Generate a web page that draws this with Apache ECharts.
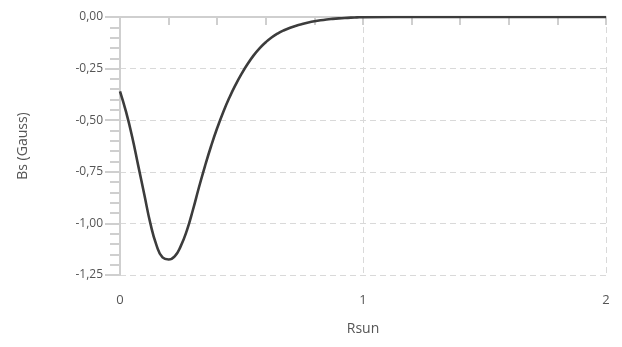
<!DOCTYPE html>
<html>
<head>
<meta charset="utf-8">
<script src="https://cdn.jsdelivr.net/npm/echarts@6/dist/echarts.min.js"></script>
<style>
  html, body { margin: 0; padding: 0; background: #fff; }
  #chart { width: 622px; height: 347px; }
</style>
</head>
<body>
<div id="chart"></div>
<script>
// Rsun values (x) and Bs in Gauss (y)
const rsun = [0, 0.025, 0.05, 0.075, 0.1, 0.125, 0.15, 0.175, 0.2, 0.225, 0.25, 0.275, 0.3, 0.325, 0.35, 0.375, 0.4, 0.425, 0.45, 0.475, 0.5,
  0.525, 0.55, 0.575, 0.6, 0.625, 0.65, 0.675, 0.7, 0.725, 0.75, 0.775, 0.8, 0.825, 0.85, 0.875, 0.9, 0.925, 0.95, 0.975, 1.0,
  1.25, 1.5, 1.75, 2.0]
const bs = [-0.36, -0.46, -0.58, -0.72, -0.86, -1.0, -1.105, -1.165, -1.175, -1.16, -1.11, -1.035, -0.935, -0.825, -0.721, -0.625, -0.538, -0.46, -0.391, -0.33, -0.276,
  -0.228, -0.186, -0.151, -0.122, -0.098, -0.079, -0.064, -0.052, -0.042, -0.034, -0.027, -0.021, -0.016, -0.012, -0.009, -0.0065, -0.0045, -0.003, -0.002, -0.001,
  0, 0, 0, 0]

const chartDom = document.getElementById('chart')
const myChart = echarts.init(chartDom, null, { renderer: 'canvas' })

const font = "'Open Sans', 'Noto Sans', sans-serif"
const axisGray = '#cfcfcf'
const textGray = '#555'

const option = {
  animation: false,
  grid: { left: 120, right: 16, top: 17, bottom: 72 },
  xAxis: {
    type: 'value',
    min: 0,
    max: 2,
    interval: 1,
    name: 'Rsun',
    nameLocation: 'middle',
    nameGap: 47,
    nameTextStyle: { color: textGray, fontSize: 14, fontFamily: font },
    axisLine: { show: true, lineStyle: { color: axisGray, width: 2 } },
    axisTick: { show: true, length: 8, lineStyle: { color: axisGray, width: 2 } },
    minorTick: { show: true, splitNumber: 5, length: 8, lineStyle: { color: axisGray, width: 2 } },
    axisLabel: { color: textGray, fontSize: 13, fontFamily: font, margin: 19 },
    splitLine: { show: true, lineStyle: { color: '#d9d9d9', type: [6, 4], width: 1 } },
  },
  yAxis: {
    type: 'value',
    min: -1.25,
    max: 0,
    interval: 0.25,
    name: 'Bs (Gauss)',
    nameLocation: 'middle',
    nameGap: 90,
    nameTextStyle: { color: textGray, fontSize: 14, fontFamily: font },
    axisLine: { show: true, lineStyle: { color: axisGray, width: 2 } },
    axisTick: { show: true, length: 15, lineStyle: { color: axisGray, width: 2 } },
    minorTick: { show: true, splitNumber: 5, length: 10, lineStyle: { color: axisGray, width: 2 } },
    axisLabel: {
      color: textGray,
      fontSize: 12,
      fontFamily: font,
      margin: 17,
      formatter: (v) => v.toFixed(2).replace('.', ','),
    },
    splitLine: { show: true, lineStyle: { color: '#d9d9d9', type: [6, 4], width: 1 } },
  },
  series: [
    {
      type: 'line',
      smooth: true,
      showSymbol: false,
      data: rsun.map((x, i) => [x, bs[i]]),
      lineStyle: { color: '#3c3c3c', width: 2.6 },
    },
  ],
}

myChart.setOption(option)
</script>
</body>
</html>
